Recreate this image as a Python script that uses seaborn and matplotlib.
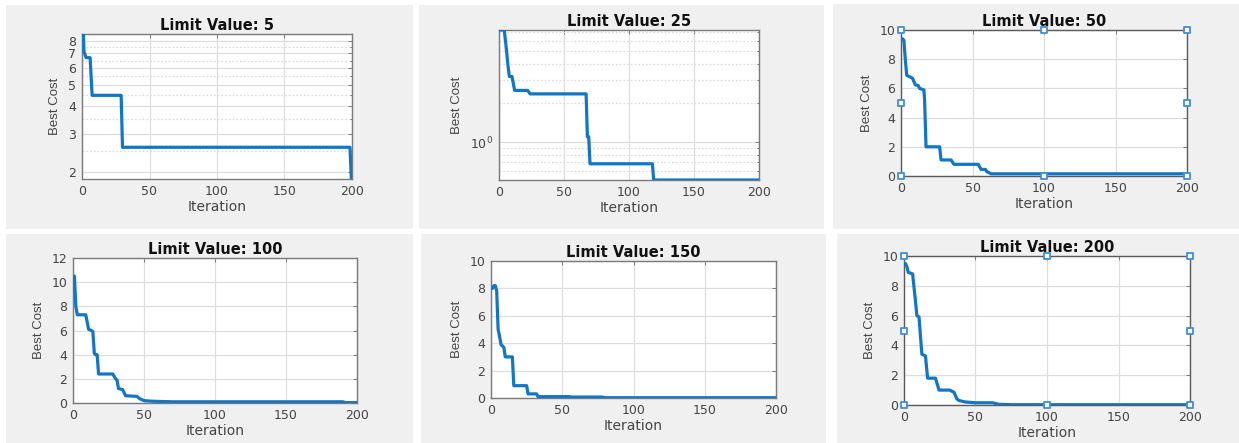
import matplotlib
matplotlib.use("Agg")
import matplotlib.pyplot as plt
import seaborn as sns
import pandas as pd
from matplotlib.patches import Rectangle
from matplotlib.ticker import FixedLocator, FixedFormatter, NullFormatter

# ---------------- data ----------------
limit_values = [5, 25, 50, 100, 150, 200]

iter_5 = [1, 1.5, 2, 3, 6, 7.5, 29, 30, 198.5, 199.5, 200]
cost_5 = [8.6, 7.1, 7.0, 6.7, 6.7, 4.5, 4.5, 2.6, 2.6, 1.86, 1.86]

iter_25 = [1, 4, 5, 6, 7, 8, 10, 12, 22, 24, 67, 68, 69, 70, 118, 119, 200]
cost_25 = [7.3, 7.3, 6.0, 4.8, 3.8, 3.2, 3.2, 2.5, 2.5, 2.35, 2.35, 1.1, 1.1, 0.68, 0.68, 0.51, 0.51]

iter_50 = [1, 2, 3, 4, 8, 10, 12, 13, 16, 16.5, 17.5, 27, 28, 35, 37, 54, 56, 59, 60, 63, 200]
cost_50 = [9.4, 9.3, 8.0, 6.9, 6.7, 6.25, 6.2, 6.0, 5.9, 5.2, 2.0, 2.0, 1.1, 1.1, 0.8, 0.8, 0.45, 0.45, 0.3, 0.15, 0.15]

iter_100 = [1, 2, 3, 9, 11, 13, 14, 15, 16, 17, 18, 28, 30, 31, 32, 35, 37, 45, 47, 50, 55, 70, 190, 192, 200]
cost_100 = [10.5, 8.0, 7.3, 7.3, 6.1, 6.0, 5.9, 4.1, 4.0, 4.0, 2.4, 2.4, 2.0, 1.9, 1.2, 1.1, 0.6, 0.55, 0.35, 0.2, 0.15, 0.1, 0.1, 0.03, 0.03]

iter_150 = [1, 2, 3, 4, 5, 6, 7, 8, 9, 10, 15, 16, 25, 26, 32, 33, 55, 56, 78, 80, 200]
cost_150 = [8.0, 8.2, 8.2, 7.8, 5.0, 4.5, 3.9, 3.8, 3.7, 3.0, 3.0, 0.9, 0.9, 0.3, 0.3, 0.1, 0.1, 0.07, 0.07, 0.02, 0.02]

iter_200 = [1, 2, 3, 6, 8, 9, 10.5, 12.5, 15, 16.5, 22, 24.5, 32, 35, 37, 38.5, 43, 50, 62, 66, 75, 200]
cost_200 = [9.5, 9.3, 8.9, 8.8, 7.0, 6.0, 5.9, 3.4, 3.3, 1.8, 1.8, 1.0, 1.0, 0.85, 0.4, 0.3, 0.2, 0.15, 0.15, 0.05, 0.02, 0.02]

x_ticks = [0, 50, 100, 150, 200]
y_ticks_5 = [2, 3, 4, 5, 6, 7, 8]
y_minor_5 = [2.5, 3.5, 4.5, 5.5, 6.5, 7.5]
y_ticks_25 = [1]
y_ticklabels_25 = ["$10^{0}$"]
y_minor_25 = [0.6, 0.7, 0.8, 0.9, 2, 3, 4, 5, 6, 7]
y_ticks_lin10 = [0, 2, 4, 6, 8, 10]
y_ticks_lin12 = [0, 2, 4, 6, 8, 10, 12]
handle_fracs = [(0, 0), (0, 0.5), (0, 1), (0.5, 1), (1, 1), (1, 0.5), (1, 0), (0.5, 0)]

series = [(iter_5, cost_5), (iter_25, cost_25), (iter_50, cost_50),
          (iter_100, cost_100), (iter_150, cost_150), (iter_200, cost_200)]

# ---------------- layout (pixels) ----------------
W, H = 1239, 443
panels_px = [(6, 5, 413, 229), (419, 5, 824, 229), (833, 4, 1239, 229),
             (6, 234, 413, 443), (421, 234, 826, 443), (837, 234, 1239, 443)]
axes_px = [(82, 34, 352, 179), (499, 30, 759, 180), (901, 30, 1187, 176),
           (73, 258, 357, 403), (491, 261, 776, 398), (904, 256, 1190, 405)]
ylims = [(1.86, 8.6), (0.51, 7.3), (0, 10), (0, 12), (0, 10), (0, 10)]

sns.set_theme(style="white")
plt.rcParams['font.family'] = ['DejaVu Sans']

fig = plt.figure(figsize=(W / 100, H / 100), dpi=100)
fig.patch.set_facecolor("white")

for (x0, y0, x1, y1) in panels_px:
    fig.patches.append(Rectangle((x0 / W, 1 - y1 / H), (x1 - x0) / W, (y1 - y0) / H,
                                 transform=fig.transFigure, facecolor="#f0f0f0",
                                 edgecolor="none", zorder=-10))

line_color = "#1276c6"
text_color = "#444444"
spine_color = "#7a7a7a"
grid_color = "#dedede"

for i, ((L, T, R, B), (xs, ys)) in enumerate(zip(axes_px, series)):
    ax = fig.add_axes([L / W, 1 - B / H, (R - L) / W, (B - T) / H])
    ax.set_facecolor("white")
    df = pd.DataFrame({"Iteration": xs, "Best Cost": ys})
    if i in (0, 1):
        ax.set_yscale("log")
    sns.lineplot(data=df, x="Iteration", y="Best Cost", ax=ax, color=line_color,
                 lw=2.3, estimator=None, sort=False, zorder=3)
    ax.set_xlim(0, 200)
    ax.set_ylim(*ylims[i])
    ax.xaxis.set_major_locator(FixedLocator(x_ticks))
    if i == 0:
        ax.yaxis.set_major_locator(FixedLocator(y_ticks_5))
        ax.yaxis.set_major_formatter(FixedFormatter([str(v) for v in y_ticks_5]))
        ax.yaxis.set_minor_locator(FixedLocator(y_minor_5))
        ax.yaxis.set_minor_formatter(NullFormatter())
    elif i == 1:
        ax.yaxis.set_major_locator(FixedLocator(y_ticks_25))
        ax.yaxis.set_major_formatter(FixedFormatter(y_ticklabels_25))
        ax.yaxis.set_minor_locator(FixedLocator(y_minor_25))
        ax.yaxis.set_minor_formatter(NullFormatter())
    elif i == 3:
        ax.set_yticks(y_ticks_lin12)
    else:
        ax.set_yticks(y_ticks_lin10)

    ax.grid(True, which="major", color=grid_color, lw=0.9, zorder=0)
    if i in (0, 1):
        ax.grid(True, which="minor", axis="y", color=grid_color, lw=0.9, ls=(0, (1.5, 1.5)), zorder=0)
    ax.set_axisbelow(True)
    ax.tick_params(which="both", direction="in", top=True, right=True,
                   colors=spine_color, labelcolor=text_color, labelsize=9, length=3, width=0.7)
    ax.tick_params(axis="x", pad=4)
    ax.tick_params(axis="y", pad=4)
    ax.tick_params(which="minor", length=1.5)
    for s in ax.spines.values():
        s.set_color(spine_color if i not in (2, 5) else "#5a5a5a")
        s.set_linewidth(1.0)
    ax.set_xlabel("Iteration", fontsize=10, color=text_color, labelpad=1.5)
    ax.set_ylabel("Best Cost", fontsize=9.5, color=text_color, labelpad=5,
                  family=['Liberation Sans', 'DejaVu Sans'])
    ax.set_title(f"Limit Value: {limit_values[i]}", fontsize=10.5, fontweight="bold",
                 color="#111111", pad=3)
    if i in (2, 5):
        hx = [h[0] for h in handle_fracs]
        hy = [h[1] for h in handle_fracs]
        ax.scatter(hx, hy, transform=ax.transAxes, marker="s", s=22,
                   facecolor="white", edgecolor="#3f8fd8", linewidth=1.3,
                   clip_on=False, zorder=5)

fig.savefig("out.png", dpi=100, facecolor="white")
